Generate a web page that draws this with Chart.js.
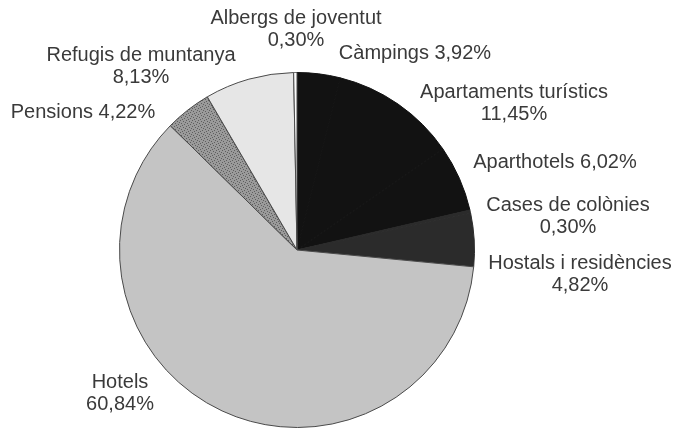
<!DOCTYPE html>
<html>
<head>
<meta charset="utf-8">
<script src="https://cdn.jsdelivr.net/npm/chart.js@4"></script>
<style>
  body { margin: 0; background: #fff; }
  #wrap { width: 679px; height: 429px; }
</style>
</head>
<body>
<div id="wrap"><canvas id="pie-chart" width="679" height="429"></canvas></div>
<script>
// dades (ordre horari des de dalt)
const categories = ['Càmpings', 'Apartaments turístics', 'Aparthotels', 'Cases de colònies',
    'Hostals i residències', 'Hotels', 'Pensions', 'Refugis de muntanya', 'Albergs de joventut'];
const shares = [3.92, 11.45, 6.02, 0.30, 4.82, 60.84, 4.22, 8.13, 0.30];

// on va cada etiqueta respecte del centre del pastís
const labelOffsets = [
    [118, -197], [217, -158], [258, -88], [271, -45], [283, 13],
    [-177, 132], [-214, -138], [-156, -195], [-1, -232]
];
const labelOneLine = [true, false, true, false, false, false, true, false, false];

function pct(v) {
    return v.toFixed(2).replace('.', ',') + '%';
}

// trama puntejada per a Pensions
function stipple() {
    const c = document.createElement('canvas');
    c.width = 6; c.height = 6;
    const g = c.getContext('2d');
    g.fillStyle = '#9a9a9a';
    g.fillRect(0, 0, 6, 6);
    g.fillStyle = '#5e5e5e';
    [[0, 0], [3, 1], [1, 3], [4, 4], [5, 2], [2, 5]].forEach(p => g.fillRect(p[0], p[1], 1, 1));
    return g.createPattern(c, 'repeat');
}

const labelPlugin = {
    id: 'pieLabels',
    afterDraw(chart) {
        const c = chart.ctx;
        const arcs = chart.getDatasetMeta(0).data;
        c.save();
        c.font = '20px "Liberation Sans", Arial, sans-serif';
        c.fillStyle = '#3a3a3a';
        c.textBaseline = 'middle';
        c.textAlign = 'center';
        arcs.forEach((arc, i) => {
            const x = arc.x + labelOffsets[i][0];
            const y = arc.y + labelOffsets[i][1];
            if (labelOneLine[i]) {
                c.fillText(categories[i] + ' ' + pct(shares[i]), x, y);
            } else {
                c.fillText(categories[i], x, y);
                c.fillText(pct(shares[i]), x, y + 22);
            }
        });
        c.restore();
    }
};

const ctx = document.getElementById('pie-chart').getContext('2d');
new Chart(ctx, {
    type: 'pie',
    data: {
        labels: categories,
        datasets: [{
            data: shares,
            backgroundColor: ['#121212', '#121212', '#121212', '#2b2b2b', '#2b2b2b',
                '#c4c4c4', stipple(), '#e6e6e6', '#fbfbfb'],
            borderColor: ['#121212', '#121212', '#121212', '#2b2b2b', '#2b2b2b',
                '#4a4a4a', '#4a4a4a', '#4a4a4a', '#4a4a4a'],
            borderWidth: 1
        }]
    },
    options: {
        responsive: false,
        animation: false,
        layout: { padding: { left: 119, right: 204, top: 72, bottom: 1 } },
        plugins: {
            legend: { display: false },
            tooltip: { enabled: false }
        }
    },
    plugins: [labelPlugin]
});
</script>
</body>
</html>
